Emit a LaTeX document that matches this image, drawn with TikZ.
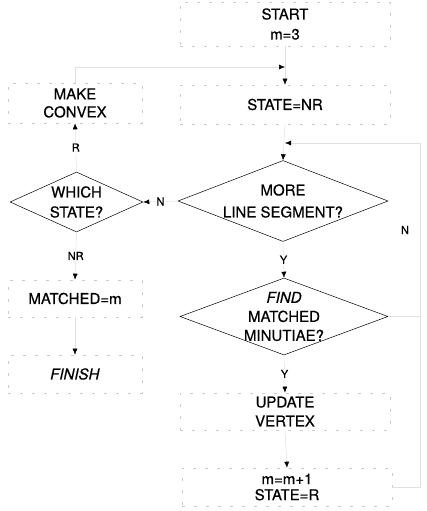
\documentclass[tikz,border=0pt]{standalone}
\usepackage{fontspec}
\setmainfont{TeX Gyre Heros}[FakeBold=0.5]
\usetikzlibrary{shapes.geometric,arrows.meta,calc}
\begin{document}
\begin{tikzpicture}[x=1pt,y=-1pt,
  txt/.style={align=center,font=\fontsize{15}{19}\selectfont,inner sep=0pt},
  procbox/.style={txt,draw=black!20,dash pattern=on 3pt off 9pt,line width=0.6pt,minimum width=210pt,minimum height=38pt},
  lbox/.style={procbox,minimum width=134pt},
  dmd/.style={diamond,draw,line width=0.5pt,inner sep=0pt},
  conn/.style={draw=black!12,line width=0.5pt,-{Latex[color=black,length=6pt,width=5pt]}},
  plainline/.style={draw=black!12,line width=0.5pt},
  lbl/.style={font=\fontsize{11}{13}\selectfont,fill=white,inner sep=1pt}]
\useasboundingbox (0,0) rectangle (427,511);

% right column
\node[procbox, minimum height=44pt] (start) at (285,24) {START\\[1pt]m=3};
\node[procbox, minimum height=39pt] (state) at (285,104.5) {STATE=NR};
\node[dmd, minimum width=210pt, minimum height=81pt,
      label={[txt]center:{MORE\\[3pt]LINE SEGMENT?}}] (more) at (283,201) {};
\node[dmd, minimum width=208pt, minimum height=77pt,
      label={[txt]center:{\textit{FIND}\\MATCHED\\MINUTIAE?}}] (find) at (284,316.5) {};
\node[procbox, minimum height=37pt] (update) at (285,411.5) {UPDATE\\VERTEX};
\node[procbox, minimum height=38pt] (incr) at (287,487) {m=m+1\\[-3pt]STATE=R};

% left column
\node[lbox, minimum height=40pt] (make) at (75,103) {MAKE\\[-1pt]CONVEX};
\node[dmd, minimum width=133pt, minimum height=60pt,
      label={[txt]center:{WHICH\\[1pt]STATE?}}] (which) at (76.5,202) {};
\node[lbox, minimum height=37pt] (matched) at (75,298.5) {MATCHED=m};
\node[lbox, minimum height=38pt] (finish) at (75,374) {\textit{FINISH}};

% junctions
\coordinate (j1) at (285,67);
\coordinate (j2) at (285,143);
\coordinate (loopc) at (420,143);
\coordinate (fn) at (420,316.5);

% connectors
\draw[conn] (start.south) -- (state.north);
\draw[conn] (make.north) |- (j1);
\draw[conn] (state.south) -- (more.north);
\draw[conn] (incr.east) -| (loopc) -- (j2);
\draw[plainline] (find.east) -- (fn);
\node[lbl] (nright) at (405,230) {N};
\draw[conn] (more.west) -- node[lbl] (nleft) {N} (which.east);
\draw[conn] (more.south) -- node[lbl] (y1) {Y} (find.north);
\draw[conn] (find.south) -- node[lbl] (y2) {Y} (update.north);
\draw[conn] (update.south) -- (incr.north);
\draw[conn] (which.north) -- node[lbl] (rlbl) {R} (make.south);
\draw[conn] (which.south) -- node[lbl] (nrlbl) {NR} (matched.north);
\draw[conn] (matched.south) -- (finish.north);
\end{tikzpicture}
\end{document}
